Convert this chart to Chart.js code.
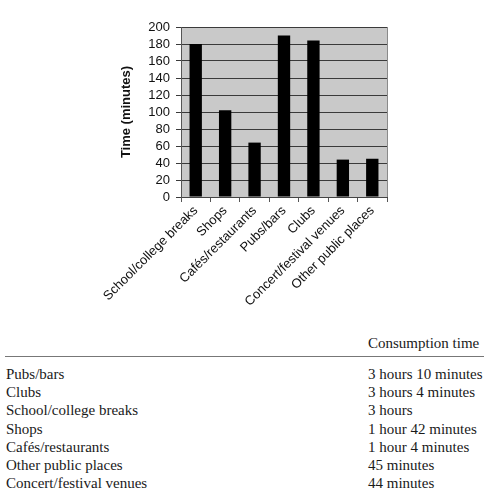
<!DOCTYPE html>
<html>
<head>
<meta charset="utf-8">
<script src="https://cdn.jsdelivr.net/npm/chart.js@4.4.1/dist/chart.umd.min.js"></script>
<style>
  body { margin:0; background:#fff; width:501px; height:492px; overflow:hidden; position:relative; }
  #wrap { position:absolute; left:0; top:0; width:501px; height:310px; }
  #tbl { position:absolute; left:6px; top:333px; width:477px; font-family:"Liberation Serif", "DejaVu Serif", serif; font-size:15px; color:#1a1a1a; }
  #tbl .head { height:20px; line-height:20px; padding-left:362px; }
  #tbl .rule { border-top:1.5px solid #777; margin:3px -1px 8px -1px; }
  #tbl .row { height:18.2px; line-height:18px; position:relative; }
  #tbl .row span:last-child { position:absolute; left:362px; }
</style>
</head>
<body>
<div id="wrap"><canvas id="chart" width="501" height="310"></canvas></div>
<div id="tbl"></div>
<script>
// ─── Data ─────────────────────────────────────────────────────────────────────
const CATEGORIES = ['School/college breaks','Shops','Cafés/restaurants','Pubs/bars','Clubs','Concert/festival venues','Other public places'];
const MINUTES = [180, 102, 64, 190, 184, 44, 45];
const Y_TICKS = [0, 20, 40, 60, 80, 100, 120, 140, 160, 180, 200];

const TABLE_HEAD = 'Consumption time';
const TABLE_PLACES = ['Pubs/bars','Clubs','School/college breaks','Shops','Cafés/restaurants','Other public places','Concert/festival venues'];
const TABLE_TIMES = ['3 hours 10 minutes','3 hours 4 minutes','3 hours','1 hour 42 minutes','1 hour 4 minutes','45 minutes','44 minutes'];

// ─── Table ────────────────────────────────────────────────────────────────────
document.getElementById('tbl').innerHTML =
  `<div class="head">${TABLE_HEAD}</div><div class="rule"></div>` +
  TABLE_PLACES.map((p,i)=>`<div class="row"><span>${p}</span><span>${TABLE_TIMES[i]}</span></div>`).join('');

// ─── Chart ────────────────────────────────────────────────────────────────────
const FONT = 'Arial, "Liberation Sans", sans-serif';
const PLOT = { left:181, top:27, right:387, bottom:197 };
const PAD_LEFT = 119;

const plotBg = {
  id:'plotBg',
  beforeDraw(c) {
    const a = c.chartArea, x = c.ctx;
    x.save(); x.fillStyle = '#c9c9c9';
    x.fillRect(a.left, a.top, a.right - a.left, a.bottom - a.top);
    x.restore();
  },
  afterDraw(c) {
    const a = c.chartArea, x = c.ctx;
    x.save(); x.strokeStyle = '#8a8a8a'; x.lineWidth = 1;
    x.beginPath(); x.moveTo(a.right + 0.5, a.top); x.lineTo(a.right + 0.5, a.bottom); x.stroke();
    x.restore();
  }
};

new Chart(document.getElementById('chart').getContext('2d'), {
  type:'bar',
  data:{
    labels: CATEGORIES,
    datasets:[{ data: MINUTES, backgroundColor:'#000', borderWidth:0, barPercentage:0.42, categoryPercentage:1 }]
  },
  options:{
    responsive:false, animation:false,
    layout:{ padding:{ left:PAD_LEFT, top:PLOT.top, right:501 - PLOT.right, bottom:0 } },
    plugins:{ legend:{display:false}, tooltip:{enabled:false} },
    scales:{
      x:{
        offset:true,
        grid:{ offset:true, drawOnChartArea:false, drawTicks:true, tickLength:5, color:'#555' },
        border:{ color:'#444', width:1 },
        ticks:{ color:'#111', font:{family:FONT, size:13}, minRotation:45, maxRotation:45, padding:1, autoSkip:false },
        afterFit(s){ s.height = 310 - PLOT.bottom; }
      },
      y:{
        min:0, max:200,
        afterBuildTicks(s){ s.ticks = Y_TICKS.map(v=>({value:v})); },
        grid:{ color:'#3a3a3a', lineWidth:1, drawTicks:true, tickLength:5 },
        border:{ color:'#555', width:1 },
        ticks:{ color:'#111', font:{family:FONT, size:13}, padding:6, autoSkip:false },
        title:{ display:true, text:'Time (minutes)', color:'#111', font:{family:FONT, size:13, weight:'bold'}, padding:0 },
        afterFit(s){ s.width = PLOT.left - PAD_LEFT; }
      }
    }
  },
  plugins:[plotBg]
});
</script>
</body>
</html>
